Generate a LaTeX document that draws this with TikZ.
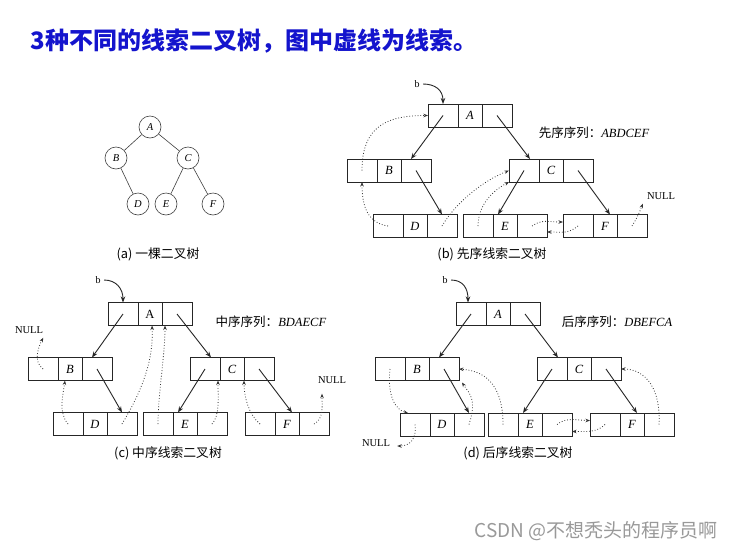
\documentclass[tikz,border=0pt]{standalone}
\usepackage{fontspec}
\setmainfont{Liberation Serif}
\newfontfamily\cjk{Noto Sans CJK SC}
\usetikzlibrary{arrows.meta, positioning}
\definecolor{titleblue}{RGB}{20,20,205}

\tikzset{
    cell/.style={draw=black!85, line width=0.7pt, minimum height=23pt, inner sep=0pt, outer sep=0pt},
    ptr/.style={cell, minimum width=30pt},
    val/.style={cell, minimum width=24pt, font=\fontsize{12.5}{12.5}\selectfont\itshape},
    circ/.style={circle, draw=black!75, line width=0.6pt, minimum size=22pt, inner sep=0pt, font=\fontsize{10.5}{10.5}\selectfont\itshape},
    link/.style={-{Stealth[length=6pt, width=4.5pt]}, line width=0.9pt, black!85},
    thread/.style={-{Stealth[length=4.5pt, width=3.5pt]}, dotted, line width=0.8pt, black!80},
    nul/.style={inner sep=4pt, font=\fontsize{10.5}{10.5}\selectfont},
    caption/.style={font=\cjk\fontsize{12.8}{13}\selectfont},
    order/.style={font=\fontsize{12.5}{12.5}\selectfont}
}

% one node of a threaded tree: left pointer, value, right pointer
\newcommand{\threebox}[4]{%
    \node[ptr] (#1l) at (#2,#3) {};
    \node[val, right=0pt of #1l] (#1) {#4};
    \node[ptr, right=0pt of #1] (#1r) {};
}

\begin{document}
\begin{tikzpicture}[x=1pt, y=-1pt]
    \path[fill=white, use as bounding box] (0,0) rectangle (735,552);

    % Title
    \node[text=titleblue, font=\cjk\bfseries\fontsize{24}{25}\selectfont] (title) at (254,41) {3种不同的线索二叉树，图中虚线为线索。};

    % (a) plain tree
    \node[circ] (nA) at (150,127) {A};
    \node[circ] (nB) at (116,158) {B};
    \node[circ] (nC) at (188,158) {C};
    \node[circ] (nD) at (138,204) {D};
    \node[circ] (nE) at (166,204) {E};
    \node[circ] (nF) at (213,204) {F};
    \draw[black!75, line width=0.6pt] (nA) -- (nB) (nA) -- (nC) (nB) -- (nD) (nC) -- (nE) (nC) -- (nF);
    \node[caption] (capA) at (158,254) {(a) 一棵二叉树};

    % (b) preorder threaded tree
    \threebox{pA}{443}{115.5}{A}
    \threebox{pB}{362}{170.5}{B}
    \threebox{pC}{524}{170.5}{C}
    \threebox{pD}{388}{226}{D}
    \threebox{pE}{478}{226}{E}
    \threebox{pF}{578}{226}{F}
    \node (pb) at (417,84) {b};
    \node[nul] (pnull) at (661,196) {NULL};
    \node[order] (pseq) at (594,133) {{\cjk 先序序列：}\textit{ABDCEF}};
    \node[caption] (capB) at (492,254) {(b) 先序线索二叉树};

    % (c) inorder threaded tree
    \threebox{iA}{123}{314}{\upshape A}
    \threebox{iB}{43}{369}{B}
    \threebox{iC}{205}{369}{C}
    \threebox{iD}{68}{424}{D}
    \threebox{iE}{158}{424}{E}
    \threebox{iF}{260}{424}{F}
    \node (ib) at (98,280) {b};
    \node[nul] (inullL) at (29,330) {NULL};
    \node[nul] (inullR) at (332,380) {NULL};
    \node[order] (iseq) at (271,322) {{\cjk 中序序列：}\textit{BDAECF}};
    \node[caption] (capC) at (168,453) {(c) 中序线索二叉树};

    % (d) postorder threaded tree
    \threebox{sA}{471}{314}{A}
    \threebox{sB}{390}{369}{B}
    \threebox{sC}{552}{369}{C}
    \threebox{sD}{415}{424.5}{D}
    \threebox{sE}{503}{424.5}{E}
    \threebox{sF}{605}{424.5}{F}
    \node (sb) at (445,280) {b};
    \node[nul] (snull) at (376,443) {NULL};
    \node[order] (sseq) at (617,322) {{\cjk 后序序列：}\textit{DBEFCA}};
    \node[caption] (capD) at (518,453) {(d) 后序线索二叉树};

    % Child pointers
    \foreach \tr in {p,i,s} {
        \draw[link] (\tr Al.center) -- ([xshift=10pt]\tr Br.north west);
        \draw[link] (\tr Ar.center) -- ([xshift=6pt]\tr Cl.north);
        \draw[link] (\tr Br.center) -- (\tr Dr.north);
        \draw[link] (\tr Cl.center) -- ([xshift=5pt]\tr E.north west);
        \draw[link] (\tr Cr.center) -- ([xshift=-7pt]\tr F.north east);
    }
    \draw[link] (pb.east) .. controls +(12,0) and +(0,-14) .. (pAl.north);
    \draw[link] (ib.east) .. controls +(12,0) and +(0,-14) .. (iAl.north);
    \draw[link] (sb.east) .. controls +(12,0) and +(0,-14) .. ([xshift=-3pt]sAl.north);

    % Threads (b)
    \draw[thread] (pBl.center) .. controls +(0,-45) and +(-40,0) .. (pAl.west);
    \draw[thread] (pDl.center) .. controls +(-20,-3) and +(0,25) .. (pBl.south);
    \draw[thread] (pDr.center) .. controls +(15,-25) and +(-25,10) .. (pCl.west);
    \draw[thread] (pEl.center) .. controls +(0,-22) and +(-15,8) .. (pCl.south west);
    \draw[thread] (pEr.center) .. controls +(10,-7) and +(-15,0) .. ([yshift=4pt]pFl.west);
    \draw[thread] (pFl.center) .. controls +(-10,8) and +(15,0) .. ([yshift=-6pt]pEr.east);
    \draw[thread] (pFr.center) .. controls +(5,-8) and +(-3,8) .. (pnull.south west);

    % Threads (c)
    \draw[thread] (iBl.center) .. controls +(-10,-8) and +(-5,10) .. ([xshift=-4pt]inullL.south east);
    \draw[thread] (iDl.center) .. controls +(-10,-12) and +(-2,15) .. ([xshift=7pt]iB.south west);
    \draw[thread] (iDr.center) .. controls +(15,-25) and +(2,40) .. ([xshift=2pt]iA.south);
    \draw[thread] (iEl.center) .. controls +(0,-30) and +(0,30) .. ([xshift=3pt]iAr.south west);
    \draw[thread] (iEr.center) .. controls +(8,-8) and +(0,15) .. ([xshift=-2pt]iCl.south east);
    \draw[thread] (iFl.center) .. controls +(-12,-10) and +(0,15) .. (iCr.south west);
    \draw[thread] (iFr.center) .. controls +(10,-5) and +(0,12) .. ([xshift=-10pt,yshift=-6pt]inullR.south);

    % Threads (d)
    \draw[thread] (sBl.center) .. controls +(-3,28) and +(-12,-3) .. ([xshift=8pt]sDl.north west);
    \draw[thread] (sDl.center) .. controls +(2,15) and +(12,0) .. ([xshift=3pt,yshift=-3pt]snull.east);
    \draw[thread] (sDr.center) .. controls +(8,-25) and +(8,12) .. ([xshift=3pt,yshift=-2pt]sBr.south east);
    \draw[thread] (sEl.center) .. controls +(0,-35) and +(30,2) .. (sBr.east);
    \draw[thread] (sEr.center) .. controls +(10,-8) and +(-12,0) .. ([yshift=4pt]sFl.west);
    \draw[thread] (sFl.center) .. controls +(-8,8) and +(15,0) .. ([yshift=-7pt]sEr.east);
    \draw[thread] (sFr.center) .. controls +(2,-35) and +(25,0) .. (sCr.east);

    % Watermark
    \node[text=black!40, font=\cjk\fontsize{19}{19}\selectfont] (csdn) at (596,531) {CSDN @不想秃头的程序员啊};
\end{tikzpicture}
\end{document}
